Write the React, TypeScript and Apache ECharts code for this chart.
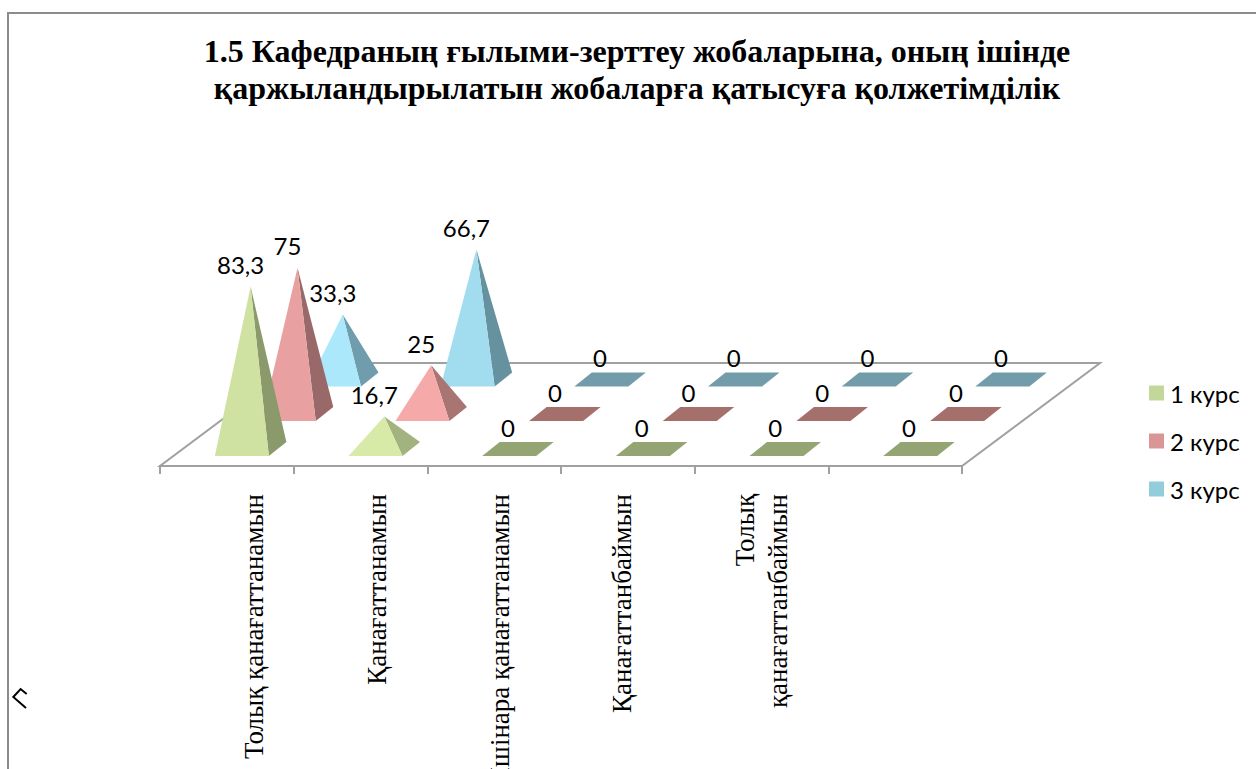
import React, { useEffect, useRef } from "react";
import * as echarts from "echarts";

const title = "1.5 Кафедраның ғылыми-зерттеу жобаларына, оның ішінде\nқаржыландырылатын жобаларға қатысуға қолжетімділік";
const categories = ["Толық қанағаттанамын", "Қанағаттанамын", "Ішінара қанағаттанамын", "Қанағаттанбаймын", "Толық\nқанағаттанбаймын", ""];
const seriesNames = ["1 курс", "2 курс", "3 курс"];
const course1 = [83.3, 16.7, 0, 0, 0, 0];
const course2 = [75, 25, 0, 0, 0, 0];
const course3 = [33.3, 66.7, 0, 0, 0, 0];
const legendColors = ["#C4D79B", "#DA9694", "#92CDDC"];
const frontColors = [
  ["#CFE2A2", "#D8EAA8"],
  ["#E8A1A0", "#F6A9A9"],
  ["#ABE8FC", "#A2DCEF"],
];
const sideColors = [
  ["#8A9A6B", "#A3B37F"],
  ["#99696A", "#A87572"],
  ["#6F9DAD", "#66919F"],
];
const flatColors = ["#94A473", "#A5706C", "#729CAA"];
const labelX = [254, 377, 500, 622, 761];

const FONT_SANS = "Lato";
const FONT_SERIF = "Liberation Serif";
const DEPTH_SLOPE = 1.34;
const FLOOR_DEPTH = 103;
const SERIES_DEPTH = [17, 52, 86.5];
const SERIES_SHIFT = 1;
const BASE_W = 54;
const BASE_D = 14;
const BASE_DX = 17.5;

const fmt = (v: number) => String(v).replace(".", ",");

function makeSeries(index: number, values: number[]) {
  return {
    name: seriesNames[index],
    type: "custom",
    itemStyle: { color: legendColors[index] },
    data: values.map((v, i) => [i, v]),
    encode: { x: 0, y: 1 },
    clip: false,
    renderItem: (_p: any, api: any) => {
      const c = api.value(0);
      const v = api.value(1);
      const top = api.coord([c, v]);
      const zero = api.coord([c, 0]);
      const d = SERIES_DEPTH[index];
      const cx = zero[0] + d * DEPTH_SLOPE + SERIES_SHIFT - (index === 2 ? 1 : 0);
      const cy = zero[1] - d;
      const fl = cx - BASE_W / 2 - BASE_DX / 2;
      const fr = fl + BASE_W;
      const fy = cy + BASE_D / 2;
      const bx = fr + BASE_DX;
      const by = fy - BASE_D;
      const apex = [cx, top[1] - d];
      const z2 = (3 - index) * 10;
      const children: any[] = [];
      if (v === 0) {
        children.push({
          type: "polygon",
          z2,
          shape: { points: [[fl, fy], [fr, fy], [bx, by], [bx - BASE_W, by]] },
          style: { fill: flatColors[index] },
        });
      } else {
        const k = Math.min(c, 1);
        children.push({
          type: "polygon",
          z2,
          shape: { points: [[fr, fy], [bx, by], apex] },
          style: { fill: sideColors[index][k] },
        });
        children.push({
          type: "polygon",
          z2: z2 + 1,
          shape: { points: [[fl, fy], [fr, fy], apex] },
          style: { fill: frontColors[index][k] },
        });
      }
      children.push({
        type: "text",
        z2: 100,
        style: {
          x: apex[0] - 10,
          y: apex[1] - 22,
          text: fmt(v),
          fill: "#000",
          font: `24px ${FONT_SANS}`,
          align: "center",
          verticalAlign: "middle",
        },
      });
      return { type: "group", children };
    },
  };
}

const floorSeries = {
  name: "floor",
  type: "custom",
  data: [[0, 0]],
  clip: false,
  silent: true,
  renderItem: (p: any) => {
    const { x, y, width, height } = p.coordSys;
    const b = y + height;
    const dx = FLOOR_DEPTH * DEPTH_SLOPE;
    return {
      type: "polygon",
      z2: 1,
      shape: { points: [[x, b], [x + width, b], [x + width + dx, b - FLOOR_DEPTH], [x + dx, b - FLOOR_DEPTH]] },
      style: { fill: "#fff", stroke: "#A0A0A0", lineWidth: 2 },
    };
  },
};

export default function App() {
  const ref = useRef<HTMLDivElement>(null);
  useEffect(() => {
    const chart = echarts.init(ref.current!, null, { renderer: "svg" });
    chart.setOption({
      animation: false,
      backgroundColor: "#fff",
      title: {
        text: title,
        left: 637,
        top: 32,
        padding: 0,
        textAlign: "center",
        textStyle: { fontFamily: FONT_SERIF, fontWeight: "bold", fontSize: 32, lineHeight: 37, color: "#000" },
      },
      legend: {
        data: seriesNames,
        orient: "vertical",
        left: 1149,
        top: 381,
        padding: 0,
        itemWidth: 15,
        itemHeight: 15,
        itemGap: 24,
        icon: "rect",
        textStyle: { fontFamily: FONT_SANS, fontSize: 24, color: "#000", padding: [0, 0, 0, 1] },
      },
      grid: { left: 160, top: 271, width: 802, height: 195 },
      xAxis: {
        type: "category",
        data: categories,
        boundaryGap: true,
        axisLine: { show: true, lineStyle: { color: "#A0A0A0", width: 2 } },
        axisTick: { show: true, interval: 0, length: 8, lineStyle: { color: "#A0A0A0", width: 2 } },
        axisLabel: { show: false, interval: 0 },
        splitLine: { show: false },
      },
      yAxis: { type: "value", min: 0, max: 100, show: false },
      graphic: [
        {
          type: "polyline",
          shape: { points: [[8, 769], [8, 13], [1256, 13]] },
          style: { fill: "none", stroke: "#8C8C8C", lineWidth: 2 },
        },
        ...categories.slice(0, 5).map((c, i) => ({
          type: "text",
          x: labelX[i],
          y: 494,
          rotation: Math.PI / 2,
          style: {
            text: c,
            font: `27px ${FONT_SERIF}`,
            lineHeight: 33,
            fill: "#000",
            align: "right",
            verticalAlign: "middle",
          },
        })),
        {
          type: "polyline",
          shape: { points: [[26.7, 694], [20.6, 689], [13.3, 697], [26, 708]] },
          style: { fill: "none", stroke: "#000", lineWidth: 2 },
        },
      ],
      series: [floorSeries, makeSeries(0, course1), makeSeries(1, course2), makeSeries(2, course3)],
    });
    return () => chart.dispose();
  }, []);
  return <div ref={ref} style={{ position: "absolute", left: 0, top: 0, width: 1256, height: 769, overflow: "hidden" }} />;
}
